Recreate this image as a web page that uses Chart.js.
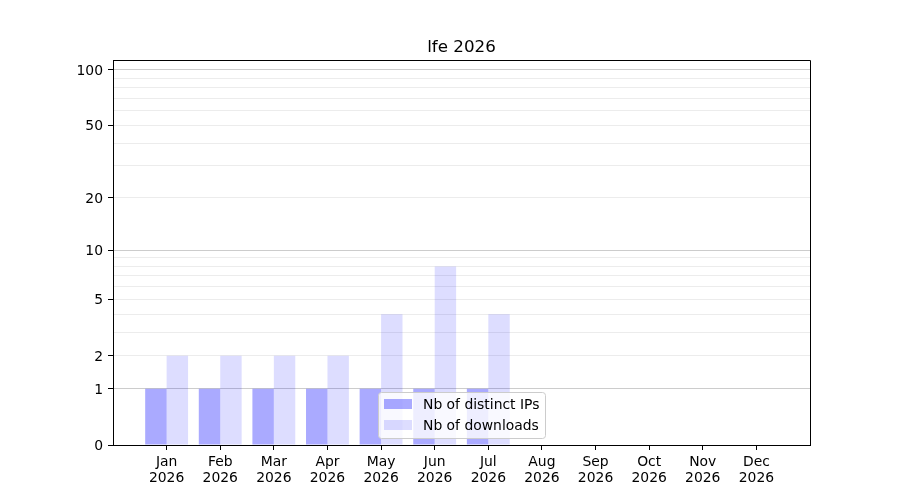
<!DOCTYPE html>
<html>
<head>
<meta charset="utf-8">
<script src="https://cdn.jsdelivr.net/npm/chart.js@4/dist/chart.umd.min.js"></script>
<style>
  html, body { margin: 0; padding: 0; background: #fff; }
  #wrap { width: 900px; height: 500px; }
</style>
</head>
<body>
<div id="wrap"><canvas id="chart" width="900" height="500"></canvas></div>
<script>
// ── Data ─────────────────────────────────────────────
const TITLE = 'lfe 2026';
const YEAR = '2026';
const months = ['Jan', 'Feb', 'Mar', 'Apr', 'May', 'Jun', 'Jul', 'Aug', 'Sep', 'Oct', 'Nov', 'Dec'];
const distinctIPs = [1, 1, 1, 1, 1, 1, 1, 0, 0, 0, 0, 0];
const downloads   = [2, 2, 2, 2, 4, 8, 4, 0, 0, 0, 0, 0];

// y ticks: every gridline, the labelled ones, and the darker (decade) ones
const yTicks    = [0, 1, 2, 3, 4, 5, 6, 7, 8, 9, 10, 20, 30, 40, 50, 60, 70, 80, 90, 100];
const yLabelled = [0, 1, 2, 5, 10, 20, 50, 100];
const yMajor    = [1, 10, 100];
const Y_MAX = 113;

const FONT = "'DejaVu Sans', sans-serif";
const FS = 13.9;

// ── log10(v + 1) scale ───────────────────────────────
class Log1pScale extends Chart.LinearScale {
  static id = 'log1p';
  buildTicks() {
    return yTicks.map(v => ({ value: v }));
  }
  _lim() {
    return [Math.log10(this.min + 1), Math.log10(this.max + 1)];
  }
  getPixelForValue(value) {
    if (value === null || value === undefined || isNaN(value)) return NaN;
    const [a, b] = this._lim();
    return this.getPixelForDecimal((Math.log10(value + 1) - a) / (b - a));
  }
  getValueForPixel(pixel) {
    const [a, b] = this._lim();
    return Math.pow(10, a + this.getDecimalForPixel(pixel) * (b - a)) - 1;
  }
}
Chart.register(Log1pScale);

// one empty slot at each end, like the wide side margins of the original
const labels  = ['', ...months.map(m => [m, YEAR]), ''];
const padded  = arr => [null, ...arr, null];

// ── Plugins: frame, title, legend inside the plot ────
const framePlugin = {
  id: 'frame',
  afterDatasetsDraw(chart) {
    const { ctx, chartArea: a } = chart;
    ctx.save();

    // legend box (matplotlib-style, lower centre)
    const boxL = a.left + 265, boxT = a.bottom - 53, boxW = 167, boxH = 46;
    ctx.fillStyle = 'rgba(255,255,255,0.8)';
    ctx.strokeStyle = '#cccccc';
    ctx.lineWidth = 1;
    ctx.beginPath();
    ctx.roundRect(boxL + 0.5, boxT + 0.5, boxW, boxH, 3);
    ctx.fill();
    ctx.stroke();

    ctx.font = FS + 'px ' + FONT;
    ctx.textBaseline = 'middle';
    ctx.textAlign = 'left';
    chart.data.datasets.forEach((ds, i) => {
      const cy = boxT + 12 + i * 21;
      ctx.fillStyle = ds.backgroundColor;
      ctx.fillRect(boxL + 6, cy - 5, 28, 10);
      ctx.fillStyle = '#000';
      ctx.fillText(ds.label, boxL + 45, cy + 1);
    });

    // top and right spines
    ctx.strokeStyle = '#000';
    ctx.beginPath();
    ctx.moveTo(Math.round(a.left) + 0.5, Math.round(a.top) + 0.5);
    ctx.lineTo(Math.round(a.right) + 0.5, Math.round(a.top) + 0.5);
    ctx.lineTo(Math.round(a.right) + 0.5, Math.round(a.bottom) + 0.5);
    ctx.stroke();

    // title
    ctx.font = '16.7px ' + FONT;
    ctx.textAlign = 'center';
    ctx.fillStyle = '#000';
    ctx.fillText(TITLE, (a.left + a.right) / 2, a.top - 12);
    ctx.restore();
  },
};

new Chart(document.getElementById('chart'), {
  type: 'bar',
  data: {
    labels: labels,
    datasets: [
      {
        label: 'Nb of distinct IPs',
        data: padded(distinctIPs),
        backgroundColor: 'rgba(0,0,255,0.333)',
      },
      {
        label: 'Nb of downloads',
        data: padded(downloads),
        backgroundColor: 'rgba(0,0,255,0.133)',
      },
    ],
  },
  options: {
    responsive: false,
    animation: false,
    devicePixelRatio: 1,
    layout: { padding: { top: 60, right: 90, bottom: 0, left: 0 } },
    datasets: {
      bar: { categoryPercentage: 0.8, barPercentage: 1.0, borderWidth: 0 },
    },
    plugins: {
      legend: { display: false },
      title: { display: false },
      tooltip: { enabled: false },
    },
    scales: {
      x: {
        type: 'category',
        offset: false,
        border: { color: '#000', width: 1 },
        grid: {
          offset: false,
          drawOnChartArea: false,
          drawTicks: true,
          tickLength: 5,
          tickWidth: 1,
          tickColor: c => (c.index === 0 || c.index === labels.length - 1) ? 'rgba(0,0,0,0)' : '#000',
        },
        ticks: {
          autoSkip: false,
          maxRotation: 0,
          padding: 4,
          color: '#000',
          font: { family: FONT, size: FS, lineHeight: 1.16 },
        },
        afterFit: s => { s.height = 55; },
      },
      y: {
        type: 'log1p',
        min: 0,
        max: Y_MAX,
        border: { color: '#000', width: 1 },
        grid: {
          lineWidth: 1,
          color: c => {
            const v = c.tick ? c.tick.value : null;
            if (v === 0) return 'rgba(0,0,0,0)';
            return yMajor.includes(v) ? '#cccccc' : '#ececec';
          },
          tickLength: 5,
          tickWidth: 1,
          tickColor: c => (c.tick && yLabelled.includes(c.tick.value)) ? '#000' : 'rgba(0,0,0,0)',
        },
        ticks: {
          autoSkip: false,
          padding: 5,
          labelOffset: 1.5,
          color: '#000',
          font: { family: FONT, size: FS },
          callback: v => yLabelled.includes(v) ? String(v) : '',
        },
        afterFit: s => { s.width = 113; },
      },
    },
  },
  plugins: [framePlugin],
});
</script>
</body>
</html>
